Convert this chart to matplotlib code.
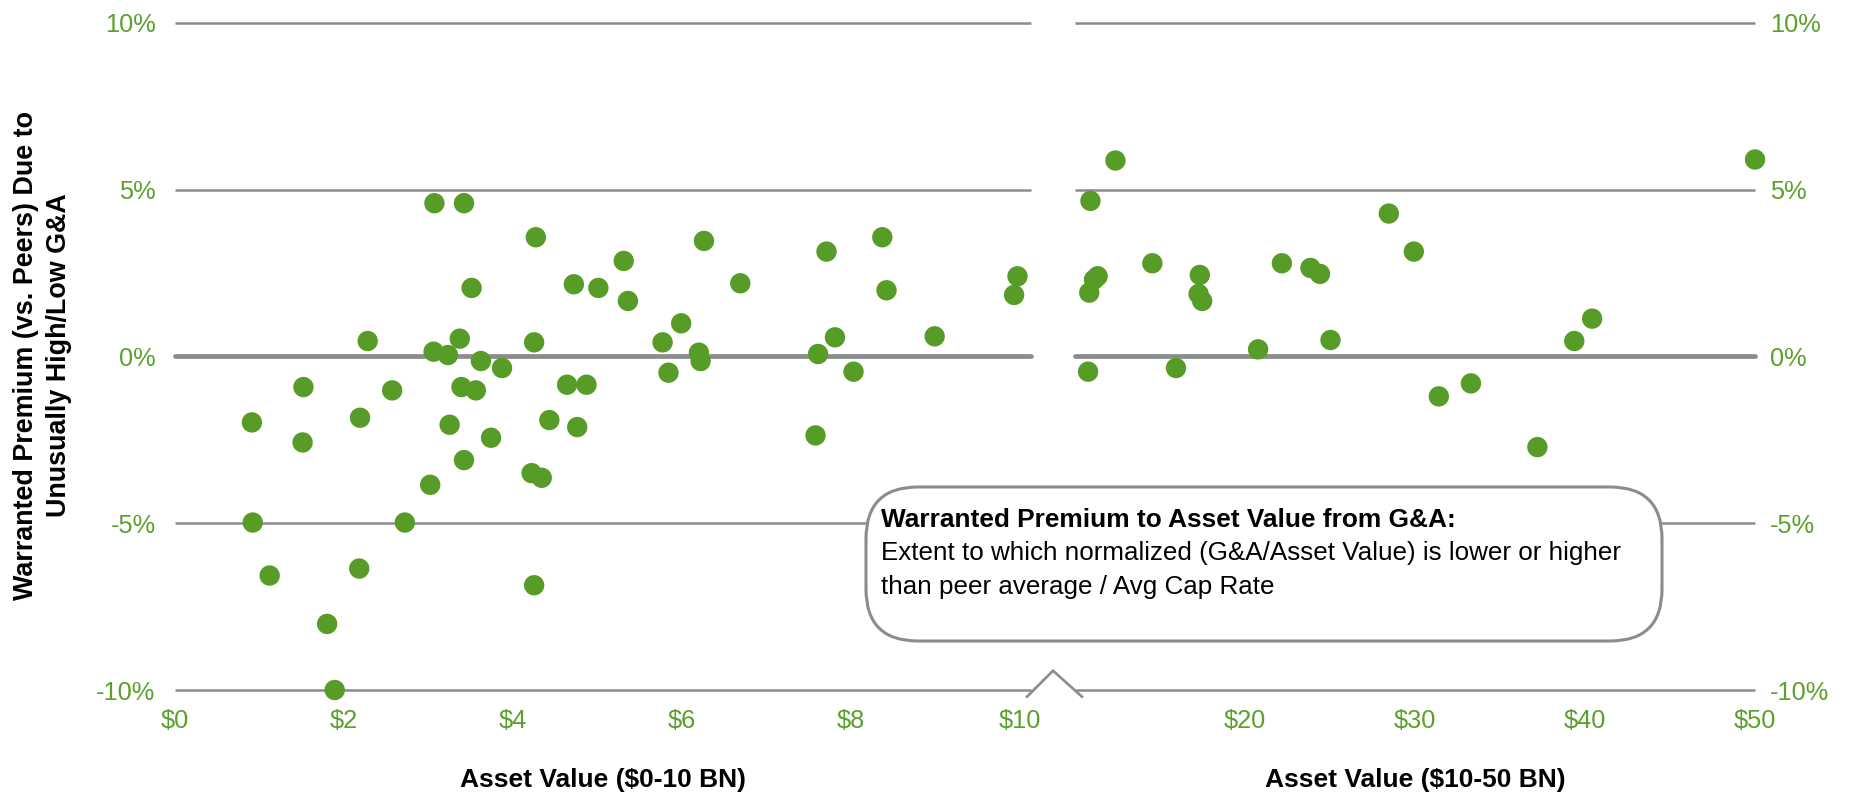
import matplotlib
matplotlib.use("Agg")
import matplotlib.pyplot as plt
from matplotlib.patches import FancyBboxPatch
from matplotlib.lines import Line2D

plt.rcParams['font.family'] = ['Liberation Sans', 'DejaVu Sans']

# Companies with asset value below $10 BN
small_asset_value = [0.91, 0.92, 1.12, 1.52, 1.51, 1.80, 1.89, 2.18, 2.19, 2.28,
                     2.57, 2.72, 3.02, 3.06, 3.07, 3.23, 3.25, 3.37, 3.39, 3.42,
                     3.42, 3.51, 3.56, 3.62, 3.74, 3.87, 4.22, 4.25, 4.25, 4.27,
                     4.34, 4.43, 4.64, 4.72, 4.76, 4.87, 5.01, 5.31, 5.36, 5.77,
                     5.84, 5.99, 6.20, 6.22, 6.26, 6.69, 7.58, 7.61, 7.71, 7.81,
                     8.03, 8.37, 8.42, 8.99, 9.93, 9.97]
small_premium = [-1.98, -4.98, -6.57, -0.92, -2.58, -8.02, -10.0, -6.36, -1.84, 0.46,
                 -1.02, -4.98, -3.85, 0.14, 4.59, 0.04, -2.05, 0.53, -0.92, 4.59,
                 -3.11, 2.05, -1.02, -0.14, -2.44, -0.35, -3.50, -6.86, 0.42, 3.57,
                 -3.64, -1.91, -0.85, 2.16, -2.12, -0.85, 2.05, 2.86, 1.66, 0.42,
                 -0.49, 0.99, 0.11, -0.14, 3.46, 2.19, -2.37, 0.07, 3.14, 0.57,
                 -0.46, 3.57, 1.98, 0.60, 1.84, 2.40]

# Companies with asset value of $10-50 BN
large_asset_value = [10.77, 10.84, 10.91, 11.12, 11.33, 12.38, 14.55, 15.94, 17.27, 17.34,
                     17.48, 20.77, 22.17, 23.85, 24.41, 25.03, 28.46, 29.93, 31.40, 33.29,
                     37.20, 39.37, 40.42, 50.0]
large_premium = [-0.46, 1.91, 4.66, 2.30, 2.40, 5.87, 2.79, -0.35, 1.87, 2.44,
                 1.66, 0.21, 2.79, 2.65, 2.47, 0.49, 4.28, 3.14, -1.20, -0.81,
                 -2.72, 0.46, 1.13, 5.90]

y_ticks = [-10, -5, 0, 5, 10]
y_tick_labels = ['-10%', '-5%', '0%', '5%', '10%']
small_x_ticks = [0, 2, 4, 6, 8, 10]
small_x_labels = [r'\$0', r'\$2', r'\$4', r'\$6', r'\$8', r'\$10']
large_x_ticks = [20, 30, 40, 50]
large_x_labels = [r'\$20', r'\$30', r'\$40', r'\$50']

GREEN = '#579C27'
LABEL_GREEN = '#5BA02D'
GRID = '#8A8D8D'

W, H = 1852, 792
fig = plt.figure(figsize=(W / 100, H / 100), dpi=100)


def px_box(x0, x1, y_top, y_bot):
    return [x0 / W, 1 - y_bot / H, (x1 - x0) / W, (y_bot - y_top) / H]


ax_small = fig.add_axes(px_box(175, 1031, 22.7, 690))
ax_large = fig.add_axes(px_box(1075, 1755, 22.7, 690))


def style_axis(ax, xlim, xticks, xlabels, side):
    ax.set_xlim(*xlim)
    ax.set_ylim(-10, 10)
    for s in ax.spines.values():
        s.set_visible(False)
    for yv in y_ticks:
        ax.axhline(yv, color=GRID, lw=3.4 if yv == 0 else 1.8,
                   zorder=1, clip_on=False, solid_capstyle='round' if yv == 0 else 'butt')
    ax.set_xticks(xticks)
    ax.set_xticklabels(xlabels)
    ax.set_yticks(y_ticks)
    ax.set_yticklabels(y_tick_labels)
    ax.tick_params(axis='both', length=0, labelsize=18.3, labelcolor=LABEL_GREEN)
    ax.tick_params(axis='x', pad=14)
    if side == 'left':
        ax.tick_params(axis='y', pad=14, left=False, labelleft=True, labelright=False)
    else:
        ax.yaxis.tick_right()
        ax.tick_params(axis='y', pad=11, right=False, labelleft=False, labelright=True)
    ax.set_facecolor('none')


style_axis(ax_small, (0, 10.13), small_x_ticks, small_x_labels, 'left')
style_axis(ax_large, (10, 50), large_x_ticks, large_x_labels, 'right')

ax_small.scatter(small_asset_value, small_premium, s=215, color=GREEN,
                 edgecolors='none', zorder=3, clip_on=False)
ax_large.scatter(large_asset_value, large_premium, s=215, color=GREEN,
                 edgecolors='none', zorder=3, clip_on=False)

for ax, lbl in [(ax_small, r'Asset Value (\$0-10 BN)'), (ax_large, r'Asset Value (\$10-50 BN)')]:
    ax.set_xlabel(lbl, fontsize=19, fontweight='bold', color='black', va='center')
    ax.xaxis.set_label_coords(0.5, -(779.5 - 690) / (690 - 22.7))

fig.text(43 / W, 1 - 355 / H,
         'Warranted Premium (vs. Peers) Due to\nUnusually High/Low G&A',
         rotation=90, ha='center', va='center', multialignment='center',
         fontsize=19.4, fontweight='bold', color='black', linespacing=1.35)

# Axis-break marker between the two panels
fig.add_artist(Line2D([1027 / W, 1053 / W, 1082 / W],
                      [1 - 696.7 / H, 1 - 670.7 / H, 1 - 696.7 / H],
                      transform=fig.transFigure, color=GRID, lw=1.9,
                      solid_joinstyle='miter'))

# Definition callout
bx0, bx1, by_top, by_bot = 866, 1662, 487, 641
callout = FancyBboxPatch((bx0 / W, 1 - by_bot / H), (bx1 - bx0) / W, (by_bot - by_top) / H,
                         boxstyle='round,pad=0,rounding_size=0.028',
                         transform=fig.transFigure, facecolor='white',
                         edgecolor=GRID, lw=2.2, zorder=5,
                         mutation_aspect=W / H)
fig.add_artist(callout)
fig.text(881 / W, 1 - 520 / H, 'Warranted Premium to Asset Value from G&A:',
         fontsize=18.9, fontweight='bold', color='black', va='center', ha='left', zorder=6)
fig.text(881 / W, 1 - 553 / H,
         'Extent to which normalized (G&A/Asset Value) is lower or higher',
         fontsize=18.7, color='black', va='center', ha='left', zorder=6)
fig.text(881 / W, 1 - 587 / H, 'than peer average / Avg Cap Rate',
         fontsize=18.7, color='black', va='center', ha='left', zorder=6)

fig.savefig('out.png', dpi=100, facecolor='white')
